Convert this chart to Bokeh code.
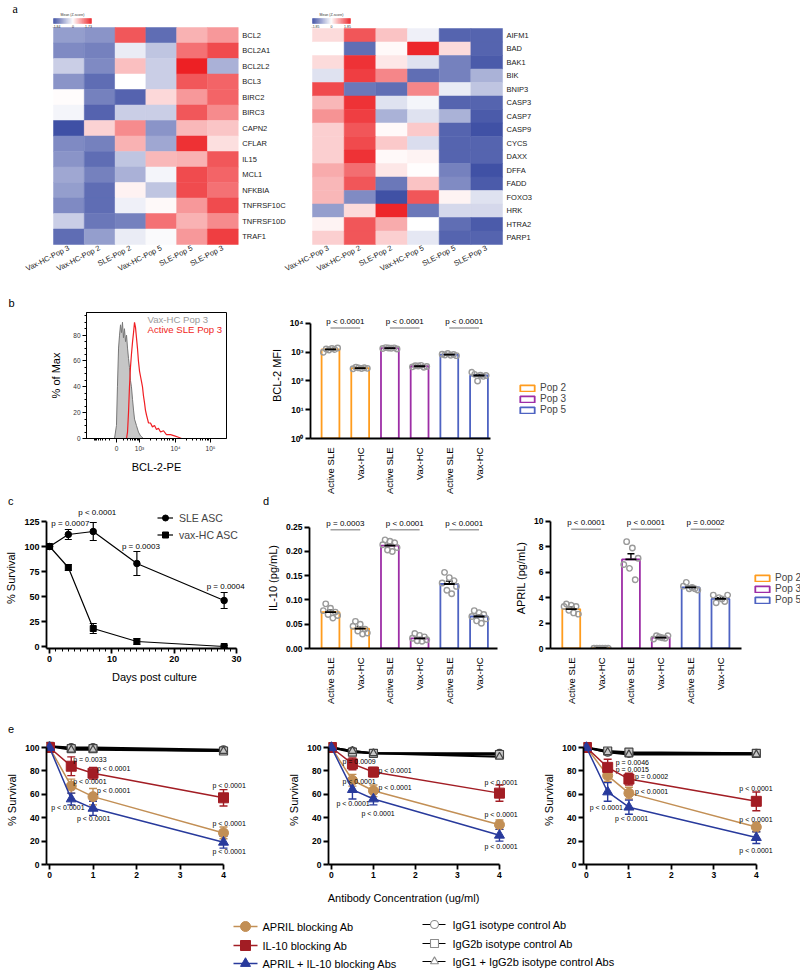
import numpy as np
from bokeh.plotting import figure
from bokeh.models import (Range1d, FixedTicker, ColumnDataSource, Whisker, Div,
                          TeeHead, Legend, LegendItem, PrintfTickFormatter)
from bokeh.layouts import column, row
from bokeh.embed import file_html
from bokeh.resources import INLINE
from bokeh.core.properties import value

SANS = "Liberation Sans"
SERIF = "Liberation Serif"

# ---------------- data: panel a (heatmaps, z-scores) ----------------
heat_cols = ["Vax-HC-Pop 3", "Vax-HC-Pop 2", "SLE-Pop 2", "Vax-HC-Pop 5", "SLE-Pop 5", "SLE-Pop 3"]
genes_left = ["BCL2", "BCL2A1", "BCL2L2", "BCL3", "BIRC2", "BIRC3", "CAPN2", "CFLAR",
              "IL15", "MCL1", "NFKBIA", "TNFRSF10C", "TNFRSF10D", "TRAF1"]
z_left = [
    [-1.0, -1.1, 1.3, -1.5, 0.6, 0.8],
    [-1.2, -1.3, -0.2, -0.6, 1.1, 1.4],
    [-0.5, -1.2, 0.5, -0.5, 1.73, -0.8],
    [-1.1, -1.5, 0.0, -0.5, 1.3, 1.2],
    [0.02, -1.3, -1.6, 0.3, 0.8, 1.2],
    [-0.1, -1.6, -0.5, -0.5, 1.3, 0.9],
    [-1.8, 0.35, 0.9, -1.1, 0.55, 0.45],
    [-1.2, -1.3, 0.6, -0.9, 1.6, 0.25],
    [-1.1, -1.5, -0.6, 0.55, 0.6, 1.3],
    [-0.9, -1.3, -0.8, -0.1, 1.4, 1.2],
    [-1.0, -1.5, 0.1, -0.6, 1.4, 1.1],
    [-1.2, -1.5, -0.15, 0.05, 0.8, 1.4],
    [-0.5, -1.4, -1.3, 1.1, 0.6, 0.9],
    [-1.5, -1.0, -0.2, -0.05, 0.8, 1.5],
]
zlim_left = [-1.84, 1.73]
genes_right = ["AIFM1", "BAD", "BAK1", "BIK", "BNIP3", "CASP3", "CASP7", "CASP9",
               "CYCS", "DAXX", "DFFA", "FADD", "FOXO3", "HRK", "HTRA2", "PARP1"]
z_right = [
    [0.3, 1.4, 0.5, -0.15, -1.6, -1.6],
    [0.0, -1.5, 0.05, 1.8, 0.3, -1.6],
    [0.3, 1.7, 0.2, -0.3, -1.3, -1.7],
    [-0.3, 1.6, 1.0, -1.5, -1.3, -0.8],
    [1.5, -1.4, -1.5, 1.0, -0.2, -0.6],
    [0.6, 1.7, -0.3, -0.1, -1.6, -1.6],
    [0.9, 1.6, -0.8, -0.3, -0.8, -1.7],
    [0.4, 1.4, 0.05, 0.45, -1.6, -1.8],
    [0.4, 1.5, 0.45, -0.35, -1.6, -1.6],
    [0.4, 1.7, 0.05, 0.1, -1.6, -1.6],
    [0.7, 1.2, 0.2, 0.02, -1.3, -1.8],
    [0.6, 1.4, -1.4, 0.5, -1.2, -1.7],
    [0.6, -1.2, -1.8, 1.4, 0.1, -0.3],
    [-1.0, 0.3, 1.8, -1.4, -0.4, -0.4],
    [0.1, 1.4, 0.7, 0.0, -1.5, -1.7],
    [0.4, 1.4, 0.4, -0.25, -1.6, -1.6],
]
zlim_right = [-1.85, 1.85]

# ---------------- data: panel b ----------------
hist_hc_channel = [200, 214, 221, 229, 236, 243, 250, 257, 264, 271, 279, 286, 293, 300,
                   307, 314, 321, 329, 336, 343, 357, 371, 386, 407]
hist_hc_pct = [0, 10, 40, 70, 80, 88, 82, 90, 78, 85, 75, 80, 70, 62,
               55, 45, 40, 30, 22, 15, 10, 5, 2, 0]
hist_sle_channel = [286, 293, 300, 307, 314, 321, 329, 336, 343, 350, 357, 364, 371, 379,
                    386, 393, 400, 407, 414, 421, 429, 436, 443, 457, 471, 486, 500, 514,
                    529, 550, 571, 600, 629, 657, 679]
hist_sle_pct = [0, 5, 20, 40, 55, 65, 75, 82, 90, 86, 78, 70, 60, 52,
                48, 44, 40, 33, 28, 22, 18, 15, 12, 12, 9, 10, 7, 8,
                5, 6, 3, 3, 2, 1, 0]
hist_tick_channel = [214, 379, 636, 886]
hist_tick_labels = ["0", "10³", "10⁴", "10⁵"]
hist_legend = ["Vax-HC Pop 3", "Active SLE Pop 3"]

bar_groups = ["Active SLE", "Vax-HC", "Active SLE", "Vax-HC", "Active SLE", "Vax-HC"]
pops = ["Pop 2", "Pop 3", "Pop 5"]
pop_colors = ["#ff9c1e", "#9d2ea6", "#4e63c2"]

bcl2_mean = [1250, 281, 1383, 325, 820, 155]
bcl2_sem = [60, 6, 22, 8, 22, 14]
bcl2_points = [[1000, 1300, 1200, 1350, 1250, 1400],
               [265, 300, 285, 270, 290, 275],
               [1350, 1450, 1400, 1380, 1420, 1300],
               [310, 340, 330, 350, 300, 320],
               [850, 800, 900, 780, 830, 760],
               [200, 170, 100, 160, 145, 155]]
bcl2_p = ["p < 0.0001", "p < 0.0001", "p < 0.0001"]

# ---------------- data: panel c ----------------
days = [0, 3, 7, 14, 28]
sle_surv = [100, 112, 115, 83, 46]
sle_err = [0, 5, 9, 12, 8]
hc_surv = [100, 79, 18, 5, 0]
hc_err = [0, 3, 5, 3, 1]
c_pvals = ["p = 0.0007", "p < 0.0001", "p = 0.0003", "p = 0.0004"]   # days 3, 7, 14, 28

# ---------------- data: panel d ----------------
il10_mean = [0.075, 0.041, 0.212, 0.021, 0.133, 0.066]
il10_sem = [0.004, 0.004, 0.003, 0.002, 0.006, 0.003]
il10_points = [[0.078, 0.092, 0.070, 0.083, 0.063, 0.075, 0.068],
               [0.046, 0.056, 0.036, 0.050, 0.030, 0.040, 0.032],
               [0.214, 0.224, 0.203, 0.221, 0.200, 0.218, 0.208],
               [0.021, 0.031, 0.016, 0.027, 0.015, 0.024, 0.018],
               [0.135, 0.157, 0.120, 0.146, 0.113, 0.140, 0.128],
               [0.066, 0.078, 0.057, 0.074, 0.052, 0.070, 0.061]]
il10_p = ["p = 0.0003", "p < 0.0001", "p < 0.0001"]

april_mean = [3.1, 0.02, 7.0, 0.85, 4.8, 3.9]
april_sem = [0.15, 0.0, 0.45, 0.05, 0.1, 0.1]
april_points = [[3.3, 3.5, 3.0, 3.4, 2.8, 3.3, 2.7],
                [0.02, 0.02, 0.02, 0.02, 0.02, 0.02],
                [6.6, 8.4, 6.3, 7.9, 5.4, 7.1],
                [0.75, 1.0, 0.9, 0.85, 0.8, 1.0],
                [4.9, 5.2, 4.7, 4.8, 4.7, 4.6],
                [4.2, 3.6, 4.0, 3.9, 3.7, 4.2]]
april_p = ["p < 0.0001", "p < 0.0001", "p = 0.0002"]

# ---------------- data: panel e ----------------
conc = [0, 0.5, 1, 4]
e_april = [[100, 67, 58, 27], [100, 72, 63, 34], [100, 76, 61, 32]]
e_april_err = [[0, 6, 7, 5], [0, 5, 5, 4], [0, 5, 5, 4]]
e_il10 = [[100, 84, 78, 57], [100, 86, 79, 61], [100, 83, 73, 54]]
e_il10_err = [[0, 8, 5, 7], [0, 5, 4, 7], [0, 7, 5, 8]]
e_combo = [[100, 56, 48, 19], [100, 64, 56, 25], [100, 62, 49, 23]]
e_combo_err = [[0, 5, 6, 5], [0, 8, 5, 5], [0, 8, 6, 5]]
e_igg1 = [[101, 100, 100, 98], [100, 97, 95, 95], [100, 96, 95, 95]]
e_igg2b = [[101, 99, 99, 97], [100, 96, 95, 94], [100, 97, 96, 95]]
e_iggmix = [[101, 98, 98, 97], [100, 97, 95, 92], [100, 96, 94, 94]]
e_p_il10 = [["p = 0.0033", "p < 0.0001", "p < 0.0001"],
            ["p = 0.0009", "p < 0.0001", "p < 0.0001"],
            ["p = 0.0046", "p = 0.0002", "p < 0.0001"]]
e_p_april = [["p < 0.0001", "p < 0.0001", "p < 0.0001"],
             ["p < 0.0001", "p < 0.0001", "p < 0.0001"],
             ["p = 0.0015", "p < 0.0001", "p < 0.0001"]]
e_p_combo = [["p < 0.0001", "p < 0.0001", "p < 0.0001"],
             ["p < 0.0001", "p < 0.0001", "p < 0.0001"],
             ["p < 0.0001", "p < 0.0001", "p < 0.0001"]]
e_series_names = ["APRIL blocking Ab", "IL-10 blocking Ab", "APRIL + IL-10 blocking Abs"]
e_control_names = ["IgG1 isotype control Ab", "IgG2b isotype control Ab",
                   "IgG1 + IgG2b isotype control Abs"]
e_colors = ["#c28f55", "#a21d24", "#283a9c"]
e_markers = ["circle", "square", "triangle"]


# ---------------- helpers ----------------
def make_fig(w, h, xr, yr, left, right, top, bottom, **kw):
    p = figure(width=w, height=h, x_range=xr, y_range=yr,
               min_border_left=left, min_border_right=right,
               min_border_top=top, min_border_bottom=bottom,
               toolbar_location=None, output_backend="svg", **kw)
    p.outline_line_color = None
    p.grid.visible = False
    return p


def letter_div(h, items):
    """band of panel letters (plain html text)"""
    html, prev = "", 0
    for txt, x in items:
        html += ('<span style="display:inline-block;width:8px;margin-left:%dpx">%s</span>'
                 % (x - prev, txt))
        prev = x + 8
    return Div(text=html, width=800, height=h, margin=(0, 0, 0, 0),
               styles={"font-family": SANS, "font-size": "11px", "line-height": "%dpx" % h,
                       "color": "black", "overflow": "visible"})


def style_axes(p, size="8.5px", bold=True):
    for ax in p.axis:
        ax.major_label_text_font = SANS
        ax.major_label_text_font_size = size
        ax.major_label_text_font_style = "bold" if bold else "normal"
        ax.major_label_text_color = "black"
        ax.axis_label_text_font = SANS
        ax.axis_label_text_font_style = "normal"
        ax.axis_label_text_font_size = "11px"
        ax.axis_label_text_color = "black"
        ax.axis_line_width = 1.8
        ax.axis_line_color = "black"
        ax.major_tick_line_width = 1.8
        ax.major_tick_line_color = "black"
        ax.minor_tick_line_width = 1
        ax.minor_tick_line_color = "black"
        ax.major_tick_in = 0
        ax.major_tick_out = 5
        ax.minor_tick_in = 0
        ax.minor_tick_out = 3
        ax.major_label_standoff = 2
        ax.axis_label_standoff = 4


def zcolor(z, lo, hi):
    blue = np.array([59, 76, 163.0])
    red = np.array([237, 32, 36.0])
    white = np.array([255, 255, 255.0])
    if z < 0:
        t = min(1.0, z / lo)
        c = white + (blue - white) * t
    else:
        t = min(1.0, z / hi)
        c = white + (red - white) * t
    return "#%02x%02x%02x" % tuple(int(round(v)) for v in c)


def add_whiskers(p, xs, ys, errs, color, size=7, lw=1.3):
    bx, lo, hi = [], [], []
    for x, y, e in zip(xs, ys, errs):
        if e > 0:
            bx.append(x); lo.append(y - e); hi.append(y + e)
    src = ColumnDataSource(dict(x=bx, lo=lo, hi=hi))
    p.add_layout(Whisker(source=src, base="x", lower="lo", upper="hi", dimension="height",
                         line_color=color, line_width=lw,
                         upper_head=TeeHead(size=size, line_color=color, line_width=lw),
                         lower_head=TeeHead(size=size, line_color=color, line_width=lw)))


# ================= panel a: heatmaps (full-canvas frame, also carries letters a, b) =================
PXA = 30.79
H_A = 308
XA0 = -53 / PXA
fa = make_fig(800, H_A, Range1d(XA0, XA0 + 800 / PXA), Range1d((244 - H_A) / 15.5, 244 / 15.5),
              0, 0, 0, 0, x_axis_location=None, y_axis_location=None)
fa.extra_y_ranges = {"r": Range1d((244 - H_A) / 13.5, 244 / 13.5)}
RX0 = (312 - 53) / PXA
RW = 31.67 / PXA

xs, ys, cs = [], [], []
nl = len(genes_left)
for r in range(nl):
    for c in range(6):
        xs.append(c + 0.5)
        ys.append(nl - 1 - r + 0.5)
        cs.append(zcolor(z_left[r][c], *zlim_left))
fa.rect(x=xs, y=ys, width=1, height=1, fill_color=cs, line_color=cs, line_width=0.5)
fa.text(x=[6 + 4 / PXA] * nl, y=[nl - 1 - r + 0.5 for r in range(nl)], text=genes_left,
        text_font=value(SANS), text_font_size="7.5px", text_baseline="middle", text_color="#1a1a1a")

xs, ys, cs = [], [], []
nr = len(genes_right)
for r in range(nr):
    for c in range(6):
        xs.append(RX0 + (c + 0.5) * RW)
        ys.append(nr - 1 - r + 0.5)
        cs.append(zcolor(z_right[r][c], *zlim_right))
fa.rect(x=xs, y=ys, width=RW, height=1, fill_color=cs, line_color=cs, line_width=0.5,
        y_range_name="r")
fa.text(x=[RX0 + 6 * RW + 4 / PXA] * nr, y=[nr - 1 - r + 0.5 for r in range(nr)], text=genes_right,
        text_font=value(SANS), text_font_size="7.5px", text_baseline="middle", text_color="#1a1a1a",
        y_range_name="r")

# colour bars
for (x0, lim, rowh, rng) in [(0.0, zlim_left, 15.5, "default"), (RX0, zlim_right, 13.5, "r")]:
    n = 60
    bw = 38 / PXA
    zz = np.linspace(lim[0], lim[1], n)
    cx = [x0 + bw * (i + 0.5) / n for i in range(n)]
    y0 = (244 - 23) / rowh
    y1 = (244 - 18) / rowh
    kw = {} if rng == "default" else {"y_range_name": "r"}
    cc = [zcolor(z, *lim) for z in zz]
    fa.rect(x=cx, y=[(y0 + y1) / 2] * n, width=bw / n, height=y1 - y0,
            fill_color=cc, line_color=cc, line_width=0.3, **kw)
    zero_x = x0 + bw * (-lim[0]) / (lim[1] - lim[0])
    fa.text(x=[x0 + 3 / PXA, zero_x, x0 + bw - 3 / PXA], y=[(244 - 25.5) / rowh] * 3,
            text=["%.2f" % lim[0], "0", "%.2f" % lim[1]], text_align="center",
            text_baseline="middle", text_font=value(SANS), text_font_size="3.5px",
            text_color="#333333", **kw)
    fa.text(x=[x0 + bw / 2], y=[(244 - 14) / rowh], text=["Mean (Z-score)"], text_align="center",
            text_baseline="middle", text_font=value(SANS), text_font_size="3.5px",
            text_color="#333333", **kw)

# rotated column labels under both heatmaps
col_x = [i + 0.5 for i in range(6)] + [RX0 + (i + 0.5) * RW for i in range(6)]
fa.text(x=col_x, y=[(244 - 247) / 15.5] * 12, text=heat_cols + heat_cols, angle=0.47,
        text_align="right", text_baseline="middle", text_font=value(SANS),
        text_font_size="7.5px", text_color="#1a1a1a")
# panel letters a and b
fa.text(x=[XA0 + 12 / PXA], y=[(244 - 8) / 15.5], text=["a"], text_font=value(SERIF),
        text_font_size="12px", text_baseline="alphabetic", text_color="black")
fa.text(x=[XA0 + 8 / PXA], y=[(244 - 302) / 15.5], text=["b"], text_font=value(SANS),
        text_font_size="11px", text_baseline="alphabetic", text_color="black")

# ================= panel b: histogram =================
fh = make_fig(240, 188, Range1d(0, 1000), Range1d(0, 139 / 1.425), 86, 14, 4, 45)
fh.outline_line_color = "black"
fh.outline_line_width = 1
fh.varea(x=hist_hc_channel, y1=0, y2=hist_hc_pct, fill_color="#c6c6c6")
fh.line(hist_hc_channel, hist_hc_pct, line_color="#777777", line_width=1)
fh.line(hist_sle_channel, hist_sle_pct, line_color="#f01e23", line_width=1.2)
style_axes(fh, size="6.5px", bold=False)
minor_x = ([214 - 165 * np.log10(k) for k in range(2, 10)] +
           [214 + 165 * np.log10(k) for k in range(2, 10)] +
           [379 + 257 * np.log10(k) for k in range(2, 10)] +
           [636 + 250 * np.log10(k) for k in range(2, 10)])
fh.xaxis.ticker = FixedTicker(ticks=hist_tick_channel, minor_ticks=[float(v) for v in minor_x])
fh.xaxis.major_label_overrides = dict(zip(hist_tick_channel, hist_tick_labels))
fh.yaxis.ticker = FixedTicker(ticks=[0, 20, 40, 60, 80], minor_ticks=list(range(0, 96, 5)))
for ax in fh.axis:
    ax.axis_line_width = 1
    ax.major_tick_line_width = 1
    ax.major_tick_out = 4
    ax.minor_tick_out = 2
    ax.major_label_text_color = "#333333"
fh.xaxis.axis_label = "BCL-2-PE"
fh.yaxis.axis_label = "% of Max"
fh.xaxis.axis_label_standoff = 6
fh.yaxis.axis_label_standoff = 8
fh.text(x=[436, 436], y=[92, 84], text=hist_legend, text_color=["#9a9a9a", "#f01e23"],
        text_font=value(SANS), text_font_size="9.6px", text_baseline="middle")


# ================= bar-chart helper (b, d) =================
def bar_panel(p, means, sems, points, pvals, text_y, line_y, bottom_val):
    idx = list(range(6))
    colors = [pop_colors[i // 2] for i in idx]
    r = p.vbar(x=idx, top=means, bottom=bottom_val, width=0.6, fill_color="white",
               line_color=colors, line_width=1.8)
    px, py = [], []
    for i, pts in enumerate(points):
        offs = np.linspace(-0.24, 0.24, len(pts))
        px += [i + o for o in offs]
        py += pts
    p.scatter(px, py, marker="circle", size=5.5, fill_alpha=0, line_color="#9a9a9a", line_width=1.4)
    p.scatter(idx, means, marker="dash", size=11, line_color="black", line_width=1.8)
    add_whiskers(p, idx, means, sems, "black", size=7, lw=1.3)
    for k, t in enumerate(pvals):
        p.segment(x0=[2 * k], x1=[2 * k + 1], y0=[line_y], y1=[line_y],
                  line_color="#a0a0a0", line_width=1.5)
        p.text(x=[2 * k + 0.5], y=[text_y], text=[t], text_align="center", text_baseline="bottom",
               text_font=value(SANS), text_font_size="8px", text_color="black")
    return r


def bar_axes(p, x_lo, x_hi):
    style_axes(p, size="8.5px", bold=True)
    ax = p.xaxis[0]
    ax.ticker = FixedTicker(ticks=list(range(6)))
    ax.major_label_overrides = {i: g for i, g in enumerate(bar_groups)}
    ax.major_label_orientation = np.pi / 2
    ax.major_label_text_font_style = "normal"
    ax.major_label_text_font_size = "9.5px"
    ax.major_tick_line_color = None
    ax.major_label_standoff = 4
    ax.bounds = (x_lo, x_hi)


def bar_legend(p, r, x, y):
    items = [LegendItem(label=pops[k], renderers=[r], index=2 * k) for k in range(3)]
    leg = Legend(items=items, location=(x, y), glyph_width=18, glyph_height=8,
                 label_height=10, label_width=20, label_standoff=4, spacing=0,
                 padding=0, margin=0, border_line_color=None, background_fill_alpha=0,
                 label_text_font=SANS, label_text_font_size="10px")
    p.add_layout(leg)


# ================= panel b: BCL-2 bars =================
PXB = 29.7
DEC = 31.5
fb = make_fig(560, 188, Range1d(-20 / PXB, -20 / PXB + 490 / PXB), Range1d(1, 10 ** (138 / DEC)),
              70, 0, 0, 50, y_axis_type="log")
rb = bar_panel(fb, bcl2_mean, bcl2_sem, bcl2_points, bcl2_p,
               10 ** ((446 - 323) / DEC), 10 ** ((446 - 325) / DEC), 1)
bar_axes(fb, -20 / PXB, 5.4)
fb.yaxis.ticker = FixedTicker(ticks=[1, 10, 100, 1000, 10000])
fb.yaxis.major_label_overrides = {1: "10⁰", 10: "10¹", 100: "10²", 1000: "10³", 10000: "10⁴"}
fb.yaxis.bounds = (1, 10000)
fb.yaxis.axis_label = "BCL-2 MFI"
bar_legend(fb, rb, 208, 23)

# ================= panel c =================
PXC = 6.233
fc = make_fig(262, 217, Range1d(-0.5, -0.5 + 216 / PXC), Range1d(-2, 139), 46, 0, 0, 76)
add_whiskers(fc, days, sle_surv, sle_err, "black", size=7, lw=1.2)
add_whiskers(fc, days, hc_surv, hc_err, "black", size=7, lw=1.2)
l1 = fc.line(days, sle_surv, line_color="black", line_width=1.2)
s1 = fc.scatter(days, sle_surv, marker="circle", size=6.5, color="black")
l2 = fc.line(days, hc_surv, line_color="black", line_width=1.2)
s2 = fc.scatter(days, hc_surv, marker="square", size=6, color="black")
c_offsets = [(-17, -11), (-15, -19), (-15, -17), (-17.5, -14)]
fc.text(x=days[1:], y=sle_surv[1:], text=c_pvals, x_offset=[o[0] for o in c_offsets],
        y_offset=[o[1] for o in c_offsets], text_baseline="middle", text_font=value(SANS),
        text_font_size="8px", text_color="black")
style_axes(fc, size="9px", bold=True)
fc.xaxis.ticker = FixedTicker(ticks=[0, 10, 20, 30], minor_ticks=list(range(0, 31)))
fc.yaxis.ticker = FixedTicker(ticks=[0, 25, 50, 75, 100, 125])
fc.xaxis.bounds = (-0.5, 30)
fc.yaxis.bounds = (-2, 125)
fc.xaxis.axis_label = "Days post culture"
fc.yaxis.axis_label = "% Survival"
fc.xaxis.axis_label_standoff = 6
legc = Legend(items=[LegendItem(label="SLE ASC", renderers=[l1, s1]),
                     LegendItem(label="vax-HC ASC", renderers=[l2, s2])],
              location=(111, 106), glyph_width=16, glyph_height=15, label_height=15,
              label_standoff=6, spacing=2, padding=0, margin=0, border_line_color=None,
              background_fill_alpha=0, label_text_font=SANS, label_text_font_size="10.5px")
fc.add_layout(legc)

# ================= panel d: IL-10 =================
fd1 = make_fig(250, 217, Range1d(-21 / PXB, -21 / PXB + 203 / PXB), Range1d(0, 143 / 492),
               47, 0, 0, 74)
bar_panel(fd1, il10_mean, il10_sem, il10_points, il10_p,
          (650 - 528) / 492, (650 - 529.5) / 492, 0)
bar_axes(fd1, -21 / PXB, 5.62)
fd1.yaxis.ticker = FixedTicker(ticks=[0, 0.05, 0.10, 0.15, 0.20, 0.25])
fd1.yaxis.formatter = PrintfTickFormatter(format="%.2f")
fd1.yaxis.bounds = (0, 0.25)
fd1.yaxis.axis_label = "IL-10 (pg/mL)"

# ================= panel d: APRIL =================
PXD = 30.2
fd2 = make_fig(288, 217, Range1d(-21 / PXD, -21 / PXD + 253 / PXD), Range1d(0, 143 / 12.9),
               35, 0, 0, 74)
rd = bar_panel(fd2, april_mean, april_sem, april_points, april_p,
               (650 - 527) / 12.9, (650 - 529) / 12.9, 0)
bar_axes(fd2, -21 / PXD, 5.7)
fd2.yaxis.ticker = FixedTicker(ticks=[0, 2, 4, 6, 8, 10])
fd2.yaxis.bounds = (0, 10)
fd2.yaxis.axis_label = "APRIL (pg/mL)"
bar_legend(fd2, rd, 203, 43)

# ================= panel e =================
e_offsets = [
    {"il10": [(2, -7), (4, -5), (-11, -12)], "april": [(2, -5), (4, -6), (-11, -9)],
     "combo": [(-20, 9), (-16, 10), (-11, 9)]},
    {"il10": [(-10, -2), (5, -2), (-15, -11)], "april": [(-10, 1), (5, -3), (-15, -10)],
     "combo": [(-16, 14), (-12, 15), (-15, 11)]},
    {"il10": [(8, -5), (6, -3), (-17, -13)], "april": [(8, -6), (6, -2), (-17, -8)],
     "combo": [(-18, 16), (-14, 11), (-17, 13)]},
]
E_DIMS = [(285, 46, 43.5), (255, 38, 43.0), (260, 39, 43.25)]
e_figs = []
for k, (w, left, pxu) in enumerate(E_DIMS):
    x0 = -3 / pxu
    p = make_fig(w, 149, Range1d(x0, x0 + (w - left) / pxu), Range1d(0, 129 / 1.17),
                 left, 0, 0, 20)
    controls = [e_igg1[k], e_igg2b[k], e_iggmix[k]]
    for vals in controls:
        p.line(conc, vals, line_color="black", line_width=2)
    for vals, mk in zip(controls, e_markers):
        p.scatter(conc, vals, marker=mk, size=8, fill_color="#c8c8c8", line_color="#444444",
                  line_width=1.2)
    series = [("april", e_april[k], e_april_err[k], e_colors[0], "circle", e_p_april[k]),
              ("il10", e_il10[k], e_il10_err[k], e_colors[1], "square", e_p_il10[k]),
              ("combo", e_combo[k], e_combo_err[k], e_colors[2], "triangle", e_p_combo[k])]
    for name, vals, errs, col, mk, pv in series:
        p.line(conc, vals, line_color=col, line_width=1.5)
        add_whiskers(p, conc, vals, errs, col, size=8, lw=1.4)
        p.scatter(conc, vals, marker=mk, size=10, color=col)
        offs = e_offsets[k][name]
        p.text(x=conc[1:], y=vals[1:], text=pv, x_offset=[o[0] for o in offs],
               y_offset=[o[1] for o in offs], text_baseline="middle", text_font=value(SANS),
               text_font_size="7px", text_color="black")
    style_axes(p, size="8.5px", bold=True)
    p.xaxis.ticker = FixedTicker(ticks=[0, 1, 2, 3, 4])
    p.yaxis.ticker = FixedTicker(ticks=[0, 20, 40, 60, 80, 100])
    p.xaxis.bounds = (x0, 4)
    p.yaxis.bounds = (0, 100)
    p.yaxis.axis_label = "% Survival"
    e_figs.append(p)

# ================= common axis title + legend of panel e =================
LH = 86
fl = make_fig(800, LH, Range1d(0, 800), Range1d(0, LH), 0, 0, 0, 0,
              x_axis_location=None, y_axis_location=None)
BOT = 970
fl.text(x=[403], y=[BOT - 897], text=["Antibody Concentration (ug/ml)"], text_align="center",
        text_baseline="middle", text_font=value(SANS), text_font_size="11px", text_color="black")
left_rows = [BOT - 926, BOT - 945, BOT - 963]
right_rows = [BOT - 924, BOT - 943, BOT - 961]
for yy, name, col, mk in zip(left_rows, e_series_names, e_colors, e_markers):
    fl.line([233, 257], [yy, yy], line_color=col, line_width=1.5)
    fl.scatter([245], [yy], marker=mk, size=10, color=col)
    fl.text(x=[262], y=[yy], text=[name], text_baseline="middle", text_font=value(SANS),
            text_font_size="11px", text_color="black")
for yy, name, mk in zip(right_rows, e_control_names, e_markers):
    fl.line([422, 445], [yy, yy], line_color="black", line_width=1.2)
    fl.scatter([434], [yy], marker=mk, size=8, fill_color="white", line_color="#8c8c8c",
               line_width=1.1)
    fl.text(x=[452], y=[yy], text=[name], text_baseline="middle", text_font=value(SANS),
            text_font_size="11px", text_color="black")

layout = column(
    fa,
    row(fh, fb),
    letter_div(11, [("c", 8), ("d", 263)]),
    row(fc, fd1, fd2),
    letter_div(11, [("e", 8)]),
    row(*e_figs),
    fl,
)
open("out.html", "w").write(file_html(layout, INLINE))
